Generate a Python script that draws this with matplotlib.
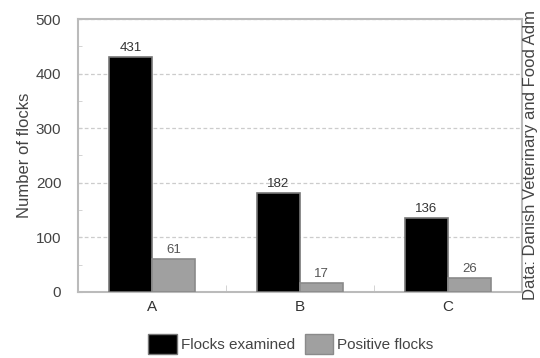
import matplotlib
matplotlib.use("Agg")
import matplotlib.pyplot as plt
import numpy as np
from matplotlib.patches import Patch

plt.rcParams['font.family'] = ['Liberation Sans', 'DejaVu Sans']

categories = ["A", "B", "C"]
examined = [431, 182, 136]
positive = [61, 17, 26]
yticks = [0, 100, 200, 300, 400, 500]

fig = plt.figure(figsize=(5.4, 3.58), dpi=100)
ax = fig.add_axes([0.1444, 0.1844, 0.8222, 0.7625])

x = np.arange(len(categories))
w = 0.29
ax.bar(x - w/2, examined, w, color="black", edgecolor="#777777", linewidth=1.2, zorder=3)
ax.bar(x + w/2, positive, w, color="#a0a0a0", edgecolor="#8a8a8a", linewidth=1.2, zorder=3)

for xi, v in zip(x - w/2, examined):
    ax.text(xi, v + 5, str(v), ha="center", va="bottom", fontsize=9.5, color="#333333")
for xi, v in zip(x + w/2, positive):
    ax.text(xi, v + 5, str(v), ha="center", va="bottom", fontsize=9.5, color="#555555")

ax.set_xlim(-0.5, 2.5)
ax.set_ylim(0, 500)
ax.set_yticks(yticks)
ax.set_yticklabels([str(t) for t in yticks], fontsize=11, color="#444444")
ax.set_yticks(np.arange(50, 500, 100), minor=True)
ax.set_xticks(x)
ax.set_xticklabels(categories, fontsize=11, color="#333333")
ax.set_xticks([0.5, 1.5], minor=True)
ax.tick_params(axis="x", which="major", length=0, pad=6)
ax.tick_params(axis="x", which="minor", length=5, color="#cccccc", direction="in")
ax.tick_params(axis="y", which="both", length=3, color="#cccccc", direction="in", pad=12)
ax.yaxis.grid(True, linestyle=(0, (3, 2)), color="#cccccc", linewidth=0.9, zorder=0)
for s in ax.spines.values():
    s.set_color("#bbbbbb")
    s.set_linewidth(1.5)
ax.set_ylabel("Number of flocks", fontsize=12, color="#444444", labelpad=3)

fig.text(530/540, 1 - 300/358, "Data: Danish Veterinary and Food Adm", rotation=90,
         ha="center", va="bottom", fontsize=12, color="#444444")

handles = [Patch(facecolor="black", edgecolor="#777777"), Patch(facecolor="#a0a0a0", edgecolor="#8a8a8a")]
leg = fig.legend(handles, ["Flocks examined", "Positive flocks"], loc="center",
                 bbox_to_anchor=(291/540, 1 - 344/358), ncol=2, frameon=False, fontsize=11,
                 handlelength=1.85, handleheight=1.7, handletextpad=0.3, columnspacing=0.6,
                 borderpad=0, borderaxespad=0)
for t in leg.get_texts():
    t.set_color("#444444")

fig.savefig("out.png", dpi=100)
